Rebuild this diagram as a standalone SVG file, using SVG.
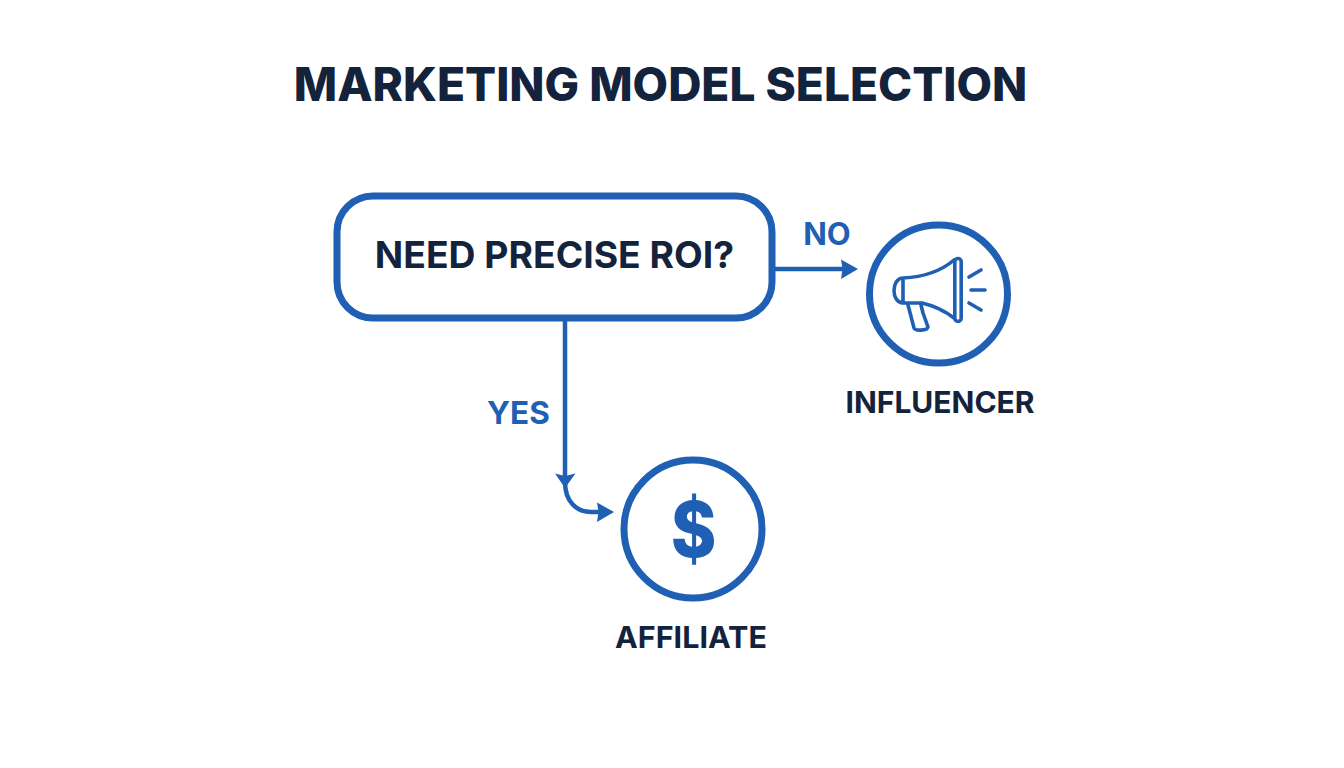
<svg xmlns="http://www.w3.org/2000/svg" width="1344" height="768" viewBox="0 0 1344 768">
<style>
text{font-family:"Inter","Liberation Sans",sans-serif;font-weight:700;text-anchor:middle}
.d{fill:#14233c}.b{fill:#1f5fb4}
.l{fill:none;stroke:#1f5fb4;stroke-width:4.500}
.c{fill:#fff;stroke:#1f5fb4;stroke-width:7}
.i{fill:none;stroke:#1f5fb4;stroke-width:3.600;stroke-linecap:round;stroke-linejoin:round}
.h{fill:#1f5fb4}
</style>
<rect width="1344" height="768" fill="#fff"/>
<text id="title" x="660.500" y="101" font-size="46" style="font-weight:800" class="d">MARKETING MODEL SELECTION</text>
<g id="connectors">
<path class="l" d="M775 269H845"/>
<path class="h" d="M858 269L841 259.500L842.500 269L841 279Z"/>
<path class="l" d="M565 320V478"/>
<path class="h" d="M565 488L555 473.500L565 476L575.500 473.500Z"/>
<path class="l" d="M565 482C565 502 577 512 591 512H600"/>
<path class="h" d="M614 512L597 502.500L598.500 512L597 522Z"/>
<text x="827" y="245" font-size="31" class="b">NO</text>
<text x="518.500" y="424" font-size="31.500" class="b">YES</text>
</g>
<g id="decision"><rect x="337" y="196" width="435" height="122" rx="36" fill="#fff" stroke="#1f5fb4" stroke-width="7"/>
<text x="554.500" y="268" font-size="37.300" class="d">NEED PRECISE ROI?</text></g>
<g id="influencer"><circle class="c" cx="938.500" cy="294" r="69"/>
<path class="i" d="M903 278C891 278 891 303 903 303M903 278V303M903 278C924 277 940 272 954 260M903 303H922C935 306 945 311 954 318M908 305L914 328C915 331 927 331 928 327L923 313L921 305"/>
<rect class="i" x="954.800" y="258.500" width="6.400" height="63" rx="3.200"/>
<path class="i" d="M969 277L981 270M971 290H985M969 303L981 310"/>
<text x="940" y="413" font-size="30" class="d">INFLUENCER</text></g>
<g id="affiliate"><circle class="c" cx="693" cy="529" r="69"/>
<text transform="translate(693.500 557) scale(.9 1)" font-size="77" style="font-weight:800" class="b">$</text>
<text x="691" y="648" font-size="30.500" class="d">AFFILIATE</text></g>
</svg>
